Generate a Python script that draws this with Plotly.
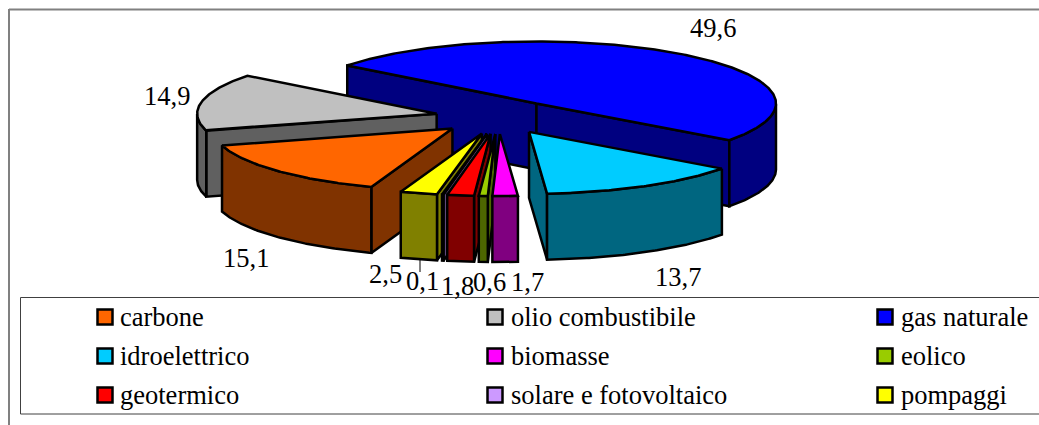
import numpy as np
import plotly.graph_objects as go

categories = ["carbone", "olio combustibile", "gas naturale", "idroelettrico", "biomasse",
              "eolico", "geotermico", "solare e fotovoltaico", "pompaggi"]
values = [15.1, 14.9, 49.6, 13.7, 1.7, 0.6, 1.8, 0.1, 2.5]
top_colors = ["#FF6600", "#C0C0C0", "#0000FF", "#00CCFF", "#FF00FF",
              "#99CC00", "#FF0000", "#CC99FF", "#FFFF00"]
wall_colors = ["#803300", "#606060", "#000080", "#006680", "#800080",
               "#4D6600", "#800000", "#664D80", "#808000"]
label_pos = [(246, 258), (167, 96), (713, 28), (678, 277), (527, 282),
             (489, 282), (457, 286), (422, 281), (385, 274)]

W, H = 1039, 425
CX, CY, EX, EY, A, B, D = 498.5, 117, 63, 17, 239.5, 62, 66
START = 109.8

fig = go.Figure()

def poly(xs, ys, color):
    fig.add_trace(go.Scatter(x=xs, y=ys, mode="lines", fill="toself", fillcolor=color,
                             line=dict(color="black", width=2.5), showlegend=False,
                             hoverinfo="skip"))

def slice_geometry(i, t0, t1):
    mid = np.radians((t0 + t1) / 2)
    ax = CX + EX * np.cos(mid)
    ay = CY + EY * np.sin(mid)
    th = np.radians(np.linspace(t0, t1, max(3, int((t1 - t0) * 2))))
    return ax, ay, th

angles = START + np.concatenate([[0], np.cumsum(values)]) * 3.6
order = [2, 1, 0, 3, 8, 7, 6, 5, 4]

for i in order:
    t0, t1 = angles[i], angles[i + 1]
    ax, ay, th = slice_geometry(i, t0, t1)
    px = ax + A * np.cos(th)
    py = ay + B * np.sin(th)
    # radial walls facing the viewer
    for t, normal in ((t0, t0 - 90), (t1, t1 + 90)):
        if np.sin(np.radians(normal)) > 0:
            ex = ax + A * np.cos(np.radians(t))
            ey = ay + B * np.sin(np.radians(t))
            poly([ax, ex, ex, ax, ax], [ay, ey, ey + D, ay + D, ay], wall_colors[i])
    # outer wall
    vis = np.sin(th) >= -1e-6
    if vis.any():
        vx, vy = px[vis], py[vis]
        poly(np.r_[vx, vx[::-1], vx[0]], np.r_[vy, vy[::-1] + D, vy[0]], wall_colors[i])
    # top face
    poly(np.r_[ax, px, ax], np.r_[ay, py, ay], top_colors[i])

# leader line of the 0,1 label
fig.add_shape(type="line", x0=420, x1=420, y0=260, y1=272, line=dict(color="black", width=1))

# frame and legend box
fig.add_shape(type="line", x0=9, x1=W, y0=9.5, y1=9.5, line=dict(color="#808080", width=2))
fig.add_shape(type="line", x0=9, x1=9, y0=9, y1=H, line=dict(color="#808080", width=2))
fig.add_shape(type="rect", x0=20.5, x1=W + 5, y0=297.5, y1=414, line=dict(color="#404040", width=1))

annotations = []
for v, (x, y) in zip(values, label_pos):
    annotations.append(dict(x=x, y=y, text=f"{v:.1f}".replace(".", ","), showarrow=False,
                            xanchor="center", yanchor="middle",
                            font=dict(family="Liberation Serif", size=26.5, color="black")))

col_sw = [105, 495, 885]
col_tx = [118, 509, 899]
rows = [317, 356, 395]
for k, name in enumerate(categories):
    r, c = divmod(k, 3)
    fig.add_trace(go.Scatter(x=[col_sw[c]], y=[rows[r]], mode="markers", showlegend=False,
                             marker=dict(symbol="square", size=15, color=top_colors[k],
                                         line=dict(color="black", width=2.5)),
                             hoverinfo="skip"))
    annotations.append(dict(x=col_tx[c], y=rows[r], text=name, showarrow=False,
                            xanchor="left", yanchor="middle",
                            font=dict(family="Liberation Serif", size=26.5, color="black")))

fig.update_layout(width=W, height=H, margin=dict(l=0, r=0, t=0, b=0),
                  paper_bgcolor="white", plot_bgcolor="white", annotations=annotations,
                  xaxis=dict(range=[0, W], visible=False, fixedrange=True),
                  yaxis=dict(range=[H, 0], visible=False, fixedrange=True))
fig.write_html("out.html", config=dict(displayModeBar=False),
               post_script="document.body.style.margin='0';document.documentElement.style.overflow='hidden';")
